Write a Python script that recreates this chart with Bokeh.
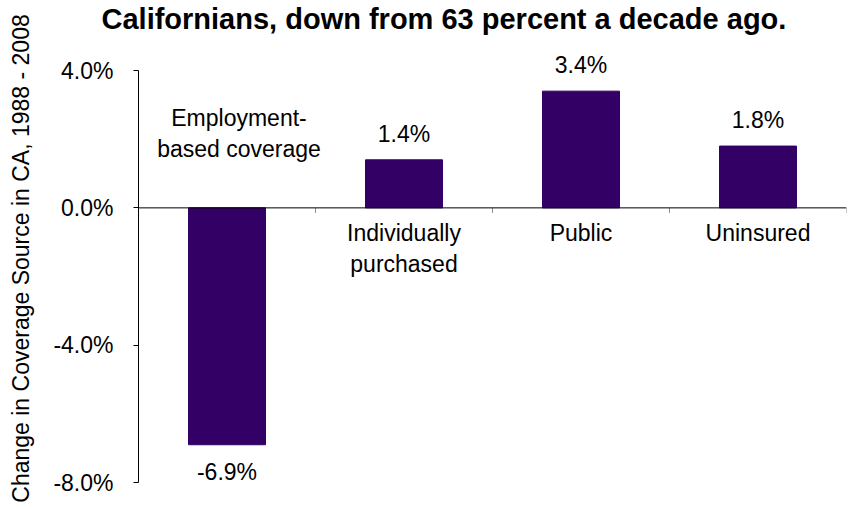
import math
from bokeh.plotting import figure
from bokeh.models import Range1d, FixedTicker, PrintfTickFormatter, Span, ColumnDataSource
from bokeh.core.properties import value
from bokeh.embed import file_html
from bokeh.resources import INLINE

# ---- data ----
categories = ["Employment-\nbased coverage", "Individually\npurchased", "Public", "Uninsured"]
changes = [-6.9, 1.4, 3.4, 1.8]
value_labels = ["-6.9%", "1.4%", "3.4%", "1.8%"]
y_ticks = [-8.0, -4.0, 0.0, 4.0]
title_text = "Californians, down from 63 percent a decade ago."
y_title = "Change in Coverage Source in CA, 1988 - 2008"

FONT = "Liberation Sans"
BAR = "#330066"
FS = "23px"
Y_TOP_PAD = 1.05   # room above the axis for the value labels

xs = list(range(1, len(categories) + 1))
pos = [i for i, v in enumerate(changes) if v >= 0]
neg = [i for i, v in enumerate(changes) if v < 0]

def sub(idx):
    return ColumnDataSource(dict(
        x=[xs[i] for i in idx],
        y=[changes[i] for i in idx],
        lab=[value_labels[i] for i in idx],
        cat=[categories[i] for i in idx],
    ))

src_pos = sub(pos)
src_neg = sub(neg)
src_all = ColumnDataSource(dict(x=xs, y=changes))

p = figure(width=848, height=509,
           x_range=Range1d(0.5, len(categories) + 0.5),
           y_range=Range1d(min(y_ticks), max(y_ticks) + Y_TOP_PAD),
           output_backend="svg", toolbar_location=None,
           min_border_left=138, min_border_right=2,
           min_border_top=33, min_border_bottom=27)
p.title.text = title_text
p.title.align = "left"
p.title.offset = -37
p.title.standoff = 0
p.title.text_font = FONT
p.title.text_font_size = "29px"
p.title.text_font_style = "bold"
p.title.text_color = "black"

p.outline_line_color = None
p.background_fill_color = "white"
p.border_fill_color = "white"
p.xgrid.visible = False
p.ygrid.visible = False
p.xaxis.visible = False

ya = p.yaxis[0]
ya.ticker = FixedTicker(ticks=y_ticks)
ya.bounds = (min(y_ticks), max(y_ticks))
ya.formatter = PrintfTickFormatter(format="%.1f%%")
ya.major_tick_out = 5
ya.major_tick_in = 0
ya.minor_tick_out = 0
ya.minor_tick_in = 0
ya.major_label_standoff = 20
ya.major_label_text_font = FONT
ya.major_label_text_font_size = FS
ya.major_label_text_color = "black"
ya.axis_line_color = "black"
ya.major_tick_line_color = "black"
ya.axis_label = y_title
ya.axis_label_text_font = FONT
ya.axis_label_text_font_size = FS
ya.axis_label_text_font_style = "normal"
ya.axis_label_text_color = "black"
ya.axis_label_standoff = 16

# bars
p.vbar(x="x", top="y", bottom=0, width=0.435, fill_color=BAR, line_color=BAR, source=src_all)

# zero line
p.add_layout(Span(location=0, dimension="width", line_color="black", line_width=1))

# category boundary ticks
bounds = [x + 0.5 for x in xs]
p.segment(x0=bounds, y0=[0] * len(bounds), x1=bounds, y1=[-0.15] * len(bounds),
          line_color="#909090", line_width=1)

common = dict(text_font=value(FONT), text_font_size=FS, text_color="black",
              text_align="center", text_line_height=1.2)

# value labels
p.text(x="x", y="y", text="lab", source=src_pos, text_baseline="alphabetic", y_offset=-26, **common)
p.text(x="x", y="y", text="lab", source=src_neg, text_baseline="top", y_offset=14, **common)

# category labels
p.text(x="x", y=0, text="cat", source=src_pos, text_baseline="top", y_offset=12, **common)
p.text(x="x", y=0, text="cat", source=src_neg, text_baseline="bottom", y_offset=-46, x_offset=12, **common)

open("out.html", "w").write(file_html(p, INLINE))
